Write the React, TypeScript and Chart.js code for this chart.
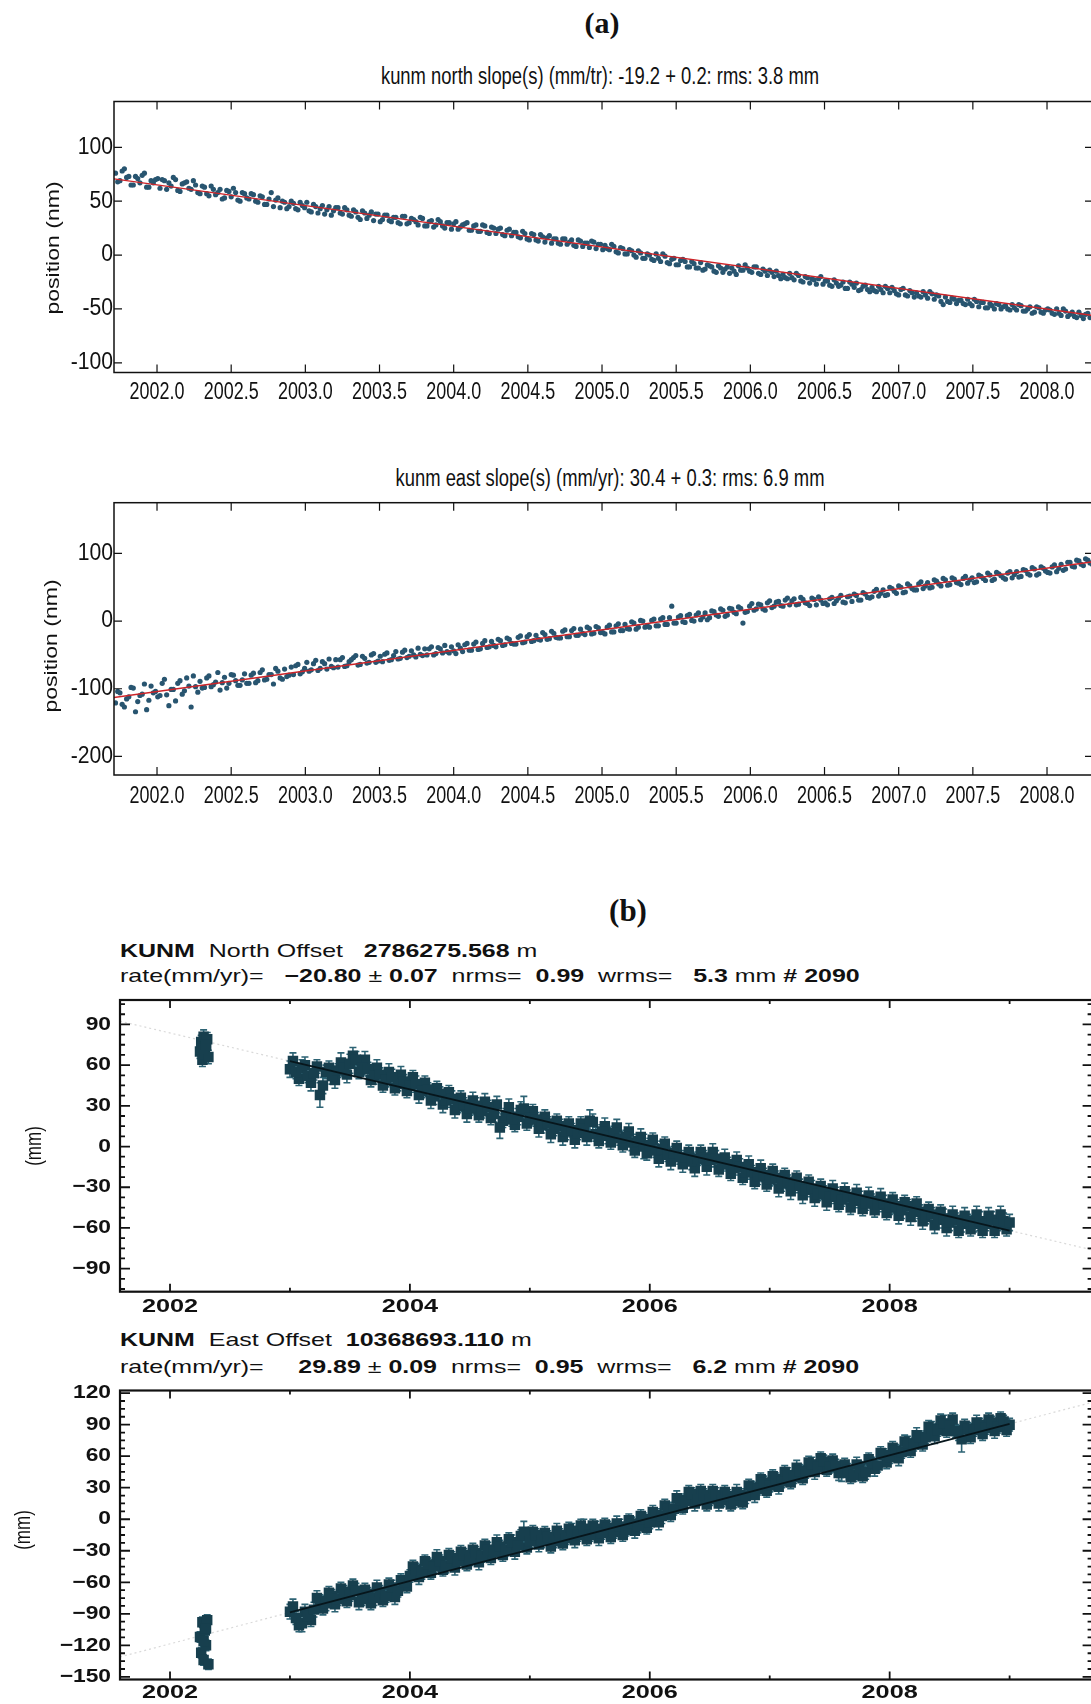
import { useEffect, useRef } from "react";
import { Chart, registerables } from "chart.js";

Chart.register(...registerables);

const CANVAS_W = 1100;
const SANS = "'Liberation Sans', Arial, Helvetica, sans-serif";
const SERIF = "'Liberation Serif', 'Times New Roman', serif";

/* ---------------- (a) daily solutions ---------------- */
// two interleaved sets of epochs, each spaced 0.03 yr
const A_START = 2001.72;
const A_START_2 = 2001.735;
const A_STEP = 0.03;

const northDaily = [
  76, 69, 80, 73, 65, 71, 74, 63, 69, 70,
  62, 69, 67, 72, 60, 66, 68, 61, 65, 57,
  63, 55, 61, 58, 52, 60, 54, 58, 50, 57,
  52, 56, 49, 54, 47, 58, 51, 44, 49, 45,
  48, 42, 46, 49, 40, 45, 43, 38, 45, 41,
  44, 38, 42, 36, 40, 33, 39, 37, 32, 38,
  33, 37, 31, 35, 29, 36, 30, 33, 28, 34,
  27, 32, 28, 31, 25, 30, 29, 24, 28, 30,
  23, 28, 22, 27, 20, 25, 24, 19, 23, 18,
  21, 16, 20, 14, 19, 13, 17, 16, 11, 15,
  10, 15, 12, 9, 14, 8, 11, 13, 6, 10,
  9, 5, 8, 2, 6, 1, 4, -2, 2, -3,
  0, -5, -3, 1, -7, -4, -9, -5, -6, -11,
  -8, -12, -14, -9, -11, -16, -12, -13, -17, -15,
  -10, -14, -12, -16, -11, -18, -15, -14, -20, -19,
  -18, -22, -21, -17, -24, -20, -26, -23, -22, -27,
  -24, -29, -26, -28, -31, -25, -30, -33, -29, -32,
  -30, -34, -32, -29, -35, -33, -37, -31, -38, -35,
  -35, -39, -37, -34, -41, -38, -46, -43, -40, -45,
  -42, -46, -45, -41, -48, -44, -49, -47, -45, -50,
  -47, -51, -49, -46, -52, -50, -54, -48, -53, -51,
  -51, -55, -54, -50, -57, -53, -58, -56, -55, -58,
];

const northDaily2 = [
  68, 78, 72, 65, 73, 67, 76, 63, 67, 71,
  70, 61, 64, 70, 59, 67, 62, 69, 58, 64,
  57, 64, 56, 61, 53, 59, 62, 51, 58, 53,
  57, 50, 55, 47, 52, 45, 53, 50, 43, 50,
  43, 49, 44, 41, 47, 39, 46, 42, 37, 44,
  39, 44, 37, 42, 35, 41, 34, 40, 38, 31,
  37, 32, 35, 30, 36, 29, 34, 31, 35, 27,
  31, 26, 33, 27, 30, 24, 31, 26, 29, 23,
  27, 22, 28, 21, 26, 20, 25, 18, 24, 21,
  17, 22, 15, 20, 14, 19, 12, 18, 15, 11,
  15, 10, 14, 8, 13, 11, 7, 12, 10, 5,
  6, 10, 3, 7, 1, 5, 0, 4, -3, 1,
  -4, 1, -6, -1, -8, -3, -9, -4, -11, -6,
  -12, -7, -13, -10, -15, -10, -16, -11, -12, -18,
  -14, -9, -15, -11, -17, -13, -19, -16, -15, -22,
  -21, -17, -23, -19, -25, -21, -22, -27, -20, -24,
  -28, -23, -29, -25, -31, -27, -26, -32, -28, -34,
  -33, -29, -35, -31, -30, -36, -32, -37, -33, -39,
  -38, -34, -40, -36, -37, -43, -39, -44, -41, -42,
  -45, -41, -47, -43, -44, -49, -45, -50, -46, -48,
  -50, -46, -51, -47, -52, -48, -53, -49, -54, -50,
  -54, -50, -56, -52, -55, -57, -53, -59, -54, -58,
];

const eastDaily = [
  -121, -106, -127, -112, -99, -119, -108, -131, -96, -104,
  -110, -86, -125, -101, -92, -108, -84, -127, -97, -89,
  -98, -81, -94, -76, -91, -99, -79, -88, -95, -78,
  -92, -77, -88, -72, -86, -79, -70, -84, -71, -80,
  -79, -64, -75, -61, -72, -58, -70, -63, -56, -69,
  -68, -54, -66, -57, -51, -64, -55, -61, -48, -59,
  -60, -47, -57, -45, -55, -43, -52, -50, -40, -51,
  -50, -38, -48, -41, -36, -47, -44, -35, -45, -33,
  -43, -31, -41, -29, -38, -36, -27, -36, -25, -33,
  -34, -22, -31, -20, -29, -27, -17, -27, -15, -24,
  -25, -13, -23, -11, -21, -18, -9, -19, -8, -17,
  -19, -6, -16, -4, -14, -11, -1, -12, 1, -9,
  -9, 3, -7, 5, -5, 22, -3, 8, -2, 10,
  0, 12, 6, 2, 15, 9, 18, 7, 19, 13,
  21, -3, 14, 26, 18, 24, 16, 30, 22, 29,
  22, 34, 30, 24, 35, 27, 23, 32, 36, 26,
  24, 35, 30, 38, 27, 37, 40, 31, 42, 35,
  36, 47, 41, 38, 50, 44, 52, 42, 55, 48,
  46, 58, 52, 49, 61, 55, 63, 53, 64, 57,
  54, 66, 61, 57, 68, 63, 71, 60, 72, 67,
  62, 73, 69, 65, 76, 70, 79, 68, 80, 74,
  71, 83, 78, 75, 87, 81, 90, 84, 92, 86,
];

const eastDaily2 = [
  -104, -123, -115, -98, -134, -110, -93, -117, -106, -112,
  -92, -109, -101, -118, -88, -103, -96, -81, -105, -99,
  -84, -97, -90, -102, -83, -92, -80, -95, -87, -92,
  -80, -91, -76, -87, -79, -93, -74, -86, -82, -68,
  -66, -78, -70, -74, -63, -73, -60, -71, -67, -57,
  -57, -67, -60, -54, -65, -52, -62, -50, -61, -52,
  -49, -58, -51, -56, -46, -54, -44, -53, -49, -41,
  -41, -50, -39, -47, -45, -38, -48, -40, -35, -43,
  -34, -42, -33, -39, -30, -38, -29, -35, -27, -34,
  -24, -32, -23, -30, -21, -28, -20, -26, -18, -25,
  -15, -23, -14, -21, -12, -20, -11, -18, -10, -17,
  -9, -16, -7, -14, -5, -12, -3, -9, 0, -7,
  1, -7, 3, -5, 5, -3, 6, -1, 8, 1,
  9, 2, 12, 5, 14, 7, 16, 9, 18, 11,
  19, 13, 22, 16, 25, 18, 27, 20, 28, 23,
  31, 24, 33, 25, 32, 26, 34, 24, 31, 27,
  33, 26, 34, 28, 36, 29, 38, 31, 40, 34,
  44, 37, 46, 39, 48, 41, 50, 43, 52, 46,
  55, 48, 57, 50, 59, 52, 61, 54, 62, 56,
  63, 56, 64, 58, 66, 60, 68, 62, 70, 64,
  71, 64, 73, 66, 75, 68, 77, 70, 78, 72,
  80, 73, 84, 77, 87, 80, 89, 82, 90, 84,
];

// slopes printed in the (a) titles (mm/yr) and a point the fit passes through
const A_NORTH_SLOPE = -19.2;
const A_NORTH_AT = { t: 2005.0, v: 7.5 };
const A_EAST_SLOPE = 30.4;
const A_EAST_AT = { t: 2005.0, v: -13 };

/* ---------------- (b) offsets with 1-sigma errors ---------------- */
// two interleaved sets of epochs, each spaced 0.05 yr
const B_START = 2003.0;
const B_START_2 = 2003.025;
const B_STEP = 0.05;

const northOffset = [
  57, 55, 58, 52, 54, 38, 55, 52, 56, 58,
  61, 64, 58, 57, 52, 53, 49, 51, 46, 48,
  45, 46, 41, 42, 37, 39, 34, 35, 30, 31,
  28, 30, 26, 29, 24, 14, 23, 20, 22, 28,
  21, 20, 16, 17, 13, 15, 11, 12, 10, 13,
  19, 9, 11, 8, 10, 6, 7, 3, 4, 0,
  1, -3, -2, -6, -5, -8, -8, -11, -9, -8,
  -10, -9, -13, -13, -16, -15, -19, -19, -22, -21,
  -24, -23, -27, -26, -29, -29, -32, -31, -35, -34,
  -37, -36, -39, -37, -40, -39, -42, -40, -43, -42,
  -45, -44, -47, -44, -48, -48, -52, -50, -54, -53,
  -56, -54, -57, -55, -57, -55, -57, -54, -57, -55, -56,
];
const northSigma = [
  6, 5, 6, 5, 5, 9, 5, 6, 5, 6,
  7, 6, 5, 5, 6, 5, 5, 6, 5, 5,
  5, 6, 5, 5, 6, 5, 5, 6, 5, 5,
  5, 6, 5, 5, 6, 8, 5, 5, 6, 9,
  5, 5, 6, 5, 5, 5, 6, 5, 5, 5,
  8, 5, 5, 6, 5, 5, 5, 6, 5, 9,
  5, 5, 6, 5, 5, 5, 5, 6, 5, 5,
  5, 6, 5, 5, 5, 6, 5, 5, 6, 5,
  5, 5, 6, 5, 5, 5, 5, 6, 5, 5,
  5, 6, 5, 5, 5, 6, 5, 5, 5, 6,
  5, 5, 6, 5, 7, 5, 5, 5, 6, 7,
  6, 5, 6, 5, 6, 7, 5, 6, 5, 6, 6,
];
const northOffset2 = [
  63, 50, 60, 47, 59, 45, 58, 49, 62, 53,
  67, 55, 64, 49, 58, 45, 55, 43, 53, 41,
  51, 38, 47, 34, 43, 31, 40, 27, 36, 24,
  34, 23, 33, 21, 31, 19, 29, 16, 27, 17,
  26, 13, 22, 9, 19, 7, 17, 5, 17, 7,
  18, 4, 15, 3, 14, 1, 11, -3, 7, -5,
  5, -9, 2, -11, -1, -13, -4, -16, -4, -15,
  -4, -17, -8, -20, -10, -23, -13, -26, -16, -28,
  -18, -31, -21, -33, -23, -36, -26, -38, -29, -41,
  -31, -43, -33, -45, -34, -46, -36, -47, -37, -49,
  -39, -51, -41, -52, -42, -55, -46, -58, -48, -60,
  -50, -62, -51, -61, -50, -62, -51, -62, -50, -61,
];
const northSigma2 = [
  6, 5, 6, 6, 5, 6, 5, 6, 7, 6,
  6, 5, 6, 5, 6, 5, 6, 5, 6, 5,
  5, 6, 5, 6, 5, 6, 5, 6, 5, 6,
  6, 5, 6, 5, 6, 5, 6, 5, 6, 5,
  5, 6, 5, 6, 5, 6, 5, 6, 5, 6,
  6, 5, 6, 5, 6, 5, 6, 5, 6, 5,
  5, 6, 5, 6, 5, 6, 5, 6, 5, 6,
  6, 5, 6, 5, 6, 5, 6, 5, 6, 5,
  5, 6, 5, 6, 5, 6, 5, 6, 5, 6,
  6, 5, 6, 5, 6, 5, 6, 5, 6, 5,
  5, 6, 5, 6, 5, 6, 5, 6, 5, 6,
  6, 5, 6, 5, 6, 5, 6, 5, 6, 5,
];

const eastOffset = [
  -88, -94, -99, -92, -86, -78, -80, -73, -76, -69,
  -72, -68, -76, -71, -75, -69, -73, -65, -68, -60,
  -54, -48, -50, -43, -45, -40, -44, -37, -40, -34,
  -38, -32, -35, -29, -31, -26, -29, -22, -25, -12,
  -21, -15, -20, -17, -21, -15, -18, -11, -15, -9,
  -15, -9, -13, -8, -12, -7, -10, -4, -7, 0,
  -3, 4, 3, 10, 10, 18, 17, 24, 19, 23,
  19, 23, 18, 22, 17, 23, 22, 30, 29, 35,
  32, 38, 36, 42, 40, 46, 45, 52, 50, 55,
  50, 51, 44, 47, 42, 49, 45, 53, 51, 61,
  59, 65, 64, 72, 71, 78, 78, 86, 85, 91,
  89, 84, 76, 86, 85, 90, 87, 92, 88, 93, 90,
];
const eastSigma = [
  7, 6, 8, 6, 7, 6, 7, 6, 6, 6,
  6, 7, 6, 6, 7, 6, 6, 7, 6, 6,
  6, 6, 7, 6, 6, 6, 7, 6, 6, 6,
  6, 6, 6, 7, 6, 6, 6, 7, 6, 10,
  6, 6, 7, 6, 6, 6, 6, 7, 6, 9,
  6, 7, 6, 6, 6, 7, 6, 6, 6, 6,
  6, 6, 7, 6, 6, 6, 7, 6, 6, 6,
  6, 7, 6, 6, 6, 6, 7, 6, 6, 6,
  6, 6, 6, 7, 6, 6, 6, 7, 6, 6,
  6, 6, 8, 6, 6, 6, 7, 6, 6, 6,
  6, 6, 6, 7, 6, 6, 6, 7, 6, 8,
  6, 6, 12, 6, 6, 6, 6, 6, 6, 6, 6,
];
const eastOffset2 = [
  -83, -101, -88, -96, -75, -85, -70, -81, -66, -78,
  -63, -79, -67, -80, -65, -77, -62, -74, -58, -64,
  -45, -55, -40, -51, -36, -48, -34, -46, -31, -43,
  -29, -41, -25, -37, -22, -34, -19, -31, -16, -27,
  -12, -24, -13, -26, -11, -23, -9, -20, -6, -19,
  -6, -18, -5, -17, -4, -15, -1, -11, 3, -8,
  7, -3, 13, 4, 20, 11, 26, 15, 27, 14,
  27, 15, 26, 14, 26, 16, 32, 23, 38, 27,
  41, 31, 45, 35, 49, 39, 54, 45, 58, 47,
  56, 44, 52, 40, 52, 41, 57, 48, 63, 54,
  68, 58, 74, 65, 80, 71, 88, 79, 94, 84,
  95, 82, 89, 78, 92, 81, 95, 84, 96, 85,
];
const eastSigma2 = [
  7, 6, 7, 6, 7, 6, 6, 7, 6, 6,
  6, 7, 6, 6, 7, 6, 6, 7, 6, 6,
  6, 7, 6, 6, 7, 6, 6, 7, 6, 6,
  6, 7, 6, 6, 7, 6, 6, 7, 6, 6,
  6, 7, 6, 6, 7, 6, 6, 7, 6, 6,
  6, 7, 6, 6, 7, 6, 6, 7, 6, 6,
  6, 7, 6, 6, 7, 6, 6, 7, 6, 6,
  6, 7, 6, 6, 7, 6, 6, 7, 6, 6,
  6, 7, 6, 6, 7, 6, 6, 7, 6, 6,
  6, 7, 6, 6, 7, 6, 6, 7, 6, 6,
  6, 7, 6, 6, 7, 6, 6, 7, 6, 6,
  6, 7, 6, 6, 7, 6, 6, 7, 6, 6,
];

// short 2002 occupation
const campaignEpochs = [2002.25, 2002.26, 2002.27, 2002.28, 2002.29, 2002.3, 2002.31, 2002.32, 2002.28, 2002.3];
const campaignNorth = [70, 77, 64, 81, 68, 74, 79, 66, 72, 75];
const campaignEast = [-112, -127, -98, -134, -106, -120, -96, -138, -116, -104];
const campaignSigma = [5, 5, 5, 5, 5, 5, 5, 5, 5, 5];

// rates printed in the (b) headers (mm/yr) and a point the fit passes through
const B_NORTH_RATE = -20.8;
const B_NORTH_AT = { t: 2006.0, v: 0.5 };
const B_EAST_RATE = 29.89;
const B_EAST_AT = { t: 2006.0, v: 1.0 };
const B_FIT_SPAN = [2003.0, 2009.0];

/* ---------------- axes ---------------- */
const A_X_RANGE = [2001.71, 2008.31];
const A_YEAR_TICKS = [2002.0, 2002.5, 2003.0, 2003.5, 2004.0, 2004.5, 2005.0, 2005.5, 2006.0, 2006.5, 2007.0, 2007.5, 2008.0];
const A_NORTH_RANGE = [-109, 142.5];
const A_NORTH_TICKS = [100, 50, 0, -50, -100];
const A_EAST_RANGE = [-227.5, 175];
const A_EAST_TICKS = [100, 0, -100, -200];

const B_X_RANGE = [2001.583, 2009.692];
const B_YEAR_TICKS = [2002, 2003, 2004, 2005, 2006, 2007, 2008, 2009];
const B_YEAR_LABELS = [2002, 2004, 2006, 2008];
const B_NORTH_RANGE = [-107, 108];
const B_NORTH_TICKS = [90, 60, 30, 0, -30, -60, -90];
const B_EAST_RANGE = [-152.5, 122.5];
const B_EAST_TICKS = [120, 90, 60, 30, 0, -30, -60, -90, -120, -150];
const B_MINOR_STEP = 7.5;

/* ---------------- helpers ---------------- */
type Pt = { x: number; y: number; e?: number };

const series = (start: number, step: number, vals: number[]): Pt[] =>
  vals.map((v, i) => ({ x: +(start + i * step).toFixed(3), y: v }));
const withSigma = (pts: Pt[], sig: number[]): Pt[] => pts.map((p, i) => ({ ...p, e: sig[i] }));
const fitLine = (slope: number, at: { t: number; v: number }, t0: number, t1: number): Pt[] =>
  [t0, t1].map((t) => ({ x: t, y: at.v + slope * (t - at.t) }));
const minorTicks = (range: number[], step: number, majors: number[]) => {
  const out: number[] = [];
  for (let v = Math.ceil(range[0] / step) * step; v <= range[1]; v += step) {
    if (!majors.some((m) => Math.abs(m - v) < 1e-6)) out.push(v);
  }
  return out;
};
const bMinus = (v: number) => (v < 0 ? "\u2212" + Math.abs(v) : String(v));

interface Labelled { v: number; text: string }
interface PanelSpec {
  top: number;
  height: number;
  area: { left: number; top: number; right: number; bottom: number };
  xRange: number[];
  yRange: number[];
  datasets: any[];
  xMajor: number[];
  xMinor: number[];
  xLabels: Labelled[];
  yMajor: number[];
  yMinor: number[];
  yLabels: Labelled[];
  xMajorLen: number;
  xMinorLen: number;
  yMajorLen: number;
  yMinorLen: number;
  frameWidth: number;
  tickFont: string;
  xLabelScale: number;
  yLabelScale: number;
  xLabelY: number;
  yLabelRight: number;
  yTitle: { text: string; cx: number; cy: number; font: string; along: number; across: number };
  errColor: string;
}

function drawScaledText(ctx: CanvasRenderingContext2D, text: string, x: number, y: number, font: string, sx: number, align: CanvasTextAlign) {
  ctx.save();
  ctx.translate(x, y);
  ctx.scale(sx, 1);
  ctx.font = font;
  ctx.textAlign = align;
  ctx.textBaseline = "middle";
  ctx.fillText(text, 0, 0);
  ctx.restore();
}

// frame, inward ticks, tick labels, axis title and error bars for one panel
function framePlugin(s: PanelSpec) {
  return {
    id: "panelFrame",
    beforeDatasetsDraw(chart: any) {
      const { ctx, chartArea: a } = chart;
      const xs = chart.scales.x;
      const ys = chart.scales.y;
      ctx.save();
      ctx.beginPath();
      ctx.rect(a.left, a.top, a.right - a.left, a.bottom - a.top);
      ctx.clip();
      ctx.strokeStyle = s.errColor;
      ctx.lineWidth = 1.6;
      chart.data.datasets.forEach((ds: any) => {
        if (!ds.errorBars) return;
        ctx.beginPath();
        for (const p of ds.data as Pt[]) {
          const e = p.e ?? 0;
          const px = xs.getPixelForValue(p.x);
          const y1 = ys.getPixelForValue(p.y + e);
          const y2 = ys.getPixelForValue(p.y - e);
          ctx.moveTo(px, y1);
          ctx.lineTo(px, y2);
          ctx.moveTo(px - 3.5, y1);
          ctx.lineTo(px + 3.5, y1);
          ctx.moveTo(px - 3.5, y2);
          ctx.lineTo(px + 3.5, y2);
        }
        ctx.stroke();
      });
      ctx.restore();
    },
    afterDatasetsDraw(chart: any) {
      const { ctx, chartArea: a } = chart;
      const xs = chart.scales.x;
      const ys = chart.scales.y;
      ctx.save();
      ctx.strokeStyle = "#111";
      ctx.fillStyle = "#111";
      ctx.lineWidth = s.frameWidth;
      ctx.strokeRect(a.left, a.top, a.right - a.left, a.bottom - a.top);

      ctx.lineWidth = Math.max(1.2, s.frameWidth - 0.4);
      ctx.beginPath();
      const xTick = (v: number, len: number) => {
        const px = xs.getPixelForValue(v);
        ctx.moveTo(px, a.bottom);
        ctx.lineTo(px, a.bottom - len);
        ctx.moveTo(px, a.top);
        ctx.lineTo(px, a.top + len);
      };
      const yTick = (v: number, len: number) => {
        const py = ys.getPixelForValue(v);
        ctx.moveTo(a.left, py);
        ctx.lineTo(a.left + len, py);
        ctx.moveTo(a.right, py);
        ctx.lineTo(a.right - len, py);
      };
      s.xMajor.forEach((v) => xTick(v, s.xMajorLen));
      s.xMinor.forEach((v) => xTick(v, s.xMinorLen));
      s.yMajor.forEach((v) => yTick(v, s.yMajorLen));
      s.yMinor.forEach((v) => yTick(v, s.yMinorLen));
      ctx.stroke();

      s.xLabels.forEach((l) =>
        drawScaledText(ctx, l.text, xs.getPixelForValue(l.v), s.xLabelY - s.top, s.tickFont, s.xLabelScale, "center")
      );
      s.yLabels.forEach((l) =>
        drawScaledText(ctx, l.text, s.yLabelRight, ys.getPixelForValue(l.v), s.tickFont, s.yLabelScale, "right")
      );

      const t = s.yTitle;
      ctx.save();
      ctx.translate(t.cx, t.cy - s.top);
      ctx.rotate(-Math.PI / 2);
      ctx.scale(t.along, t.across);
      ctx.font = t.font;
      ctx.textAlign = "center";
      ctx.textBaseline = "middle";
      ctx.fillText(t.text, 0, 0);
      ctx.restore();
      ctx.restore();
    },
  };
}

/* ---------------- datasets ---------------- */
const DOT = "#285570";
const RED = "#cc2429";
const BAND = "#173f4e";
const BAND_ERR = "#2d6374";

function dailyDatasets(vals: number[], vals2: number[], slope: number, at: { t: number; v: number }) {
  const dots = {
    type: "scatter",
    backgroundColor: DOT,
    borderWidth: 0,
    pointRadius: 2.6,
    order: 1,
  };
  return [
    {
      type: "line",
      data: fitLine(slope, at, A_X_RANGE[0], A_X_RANGE[1]),
      borderColor: RED,
      borderWidth: 1.4,
      pointRadius: 0,
      order: 0,
    },
    { ...dots, data: series(A_START, A_STEP, vals) },
    { ...dots, data: series(A_START_2, A_STEP, vals2) },
  ];
}

function offsetDatasets(
  vals: number[], sig: number[], vals2: number[], sig2: number[], early: number[],
  rate: number, at: { t: number; v: number }
) {
  const marks = {
    type: "scatter",
    errorBars: true,
    pointStyle: "rect",
    backgroundColor: BAND,
    borderWidth: 0,
    pointRadius: 7.4,
    order: 1,
  };
  return [
    {
      type: "line",
      data: fitLine(rate, at, B_FIT_SPAN[0], B_FIT_SPAN[1]),
      borderColor: "#07161c",
      borderWidth: 1.8,
      pointRadius: 0,
      order: 0,
    },
    { ...marks, data: withSigma(series(B_START, B_STEP, vals), sig) },
    { ...marks, data: withSigma(series(B_START_2, B_STEP, vals2), sig2) },
    { ...marks, data: early.map((v, i) => ({ x: campaignEpochs[i], y: v, e: campaignSigma[i] })) },
    {
      type: "line",
      data: fitLine(rate, at, B_X_RANGE[0], B_X_RANGE[1]),
      borderColor: "rgba(160,160,160,0.4)",
      borderWidth: 1.2,
      borderDash: [2, 3],
      pointRadius: 0,
      order: 3,
    },
  ];
}

/* ---------------- panels ---------------- */
const A_TICK_FONT = `23px ${SANS}`;
const B_TICK_FONT = `bold 19px ${SANS}`;

const aXLabels = A_YEAR_TICKS.map((v) => ({ v, text: v.toFixed(1) }));
const bXLabels = B_YEAR_LABELS.map((v) => ({ v, text: String(v) }));
const bXMinor = B_YEAR_TICKS.filter((v) => !B_YEAR_LABELS.includes(v));

const panelA1: PanelSpec = {
  top: 88,
  height: 330,
  area: { left: 114, top: 101.5, right: 1093, bottom: 372.5 },
  xRange: A_X_RANGE,
  yRange: A_NORTH_RANGE,
  datasets: dailyDatasets(northDaily, northDaily2, A_NORTH_SLOPE, A_NORTH_AT),
  xMajor: A_YEAR_TICKS,
  xMinor: [],
  xLabels: aXLabels,
  yMajor: A_NORTH_TICKS,
  yMinor: [],
  yLabels: A_NORTH_TICKS.map((v) => ({ v, text: String(v) })),
  xMajorLen: 8,
  xMinorLen: 0,
  yMajorLen: 8,
  yMinorLen: 0,
  frameWidth: 1.5,
  tickFont: A_TICK_FONT,
  xLabelScale: 0.78,
  yLabelScale: 0.92,
  xLabelY: 393,
  yLabelRight: 113,
  yTitle: { text: "position (nm)", cx: 54, cy: 248, font: `18px ${SANS}`, along: 1.28, across: 1 },
  errColor: BAND_ERR,
};

const panelA2: PanelSpec = {
  ...panelA1,
  top: 488,
  area: { left: 114, top: 502.7, right: 1093, bottom: 775 },
  yRange: A_EAST_RANGE,
  datasets: dailyDatasets(eastDaily, eastDaily2, A_EAST_SLOPE, A_EAST_AT),
  yMajor: A_EAST_TICKS,
  yLabels: A_EAST_TICKS.map((v) => ({ v, text: String(v) })),
  xLabelY: 797,
  yTitle: { ...panelA1.yTitle, cx: 52, cy: 646 },
};

const panelB1: PanelSpec = {
  top: 990,
  height: 335,
  area: { left: 120, top: 1000, right: 1093, bottom: 1291.7 },
  xRange: B_X_RANGE,
  yRange: B_NORTH_RANGE,
  datasets: offsetDatasets(northOffset, northSigma, northOffset2, northSigma2, campaignNorth, B_NORTH_RATE, B_NORTH_AT),
  xMajor: B_YEAR_LABELS,
  xMinor: bXMinor,
  xLabels: bXLabels,
  yMajor: B_NORTH_TICKS,
  yMinor: minorTicks(B_NORTH_RANGE, B_MINOR_STEP, B_NORTH_TICKS),
  yLabels: B_NORTH_TICKS.map((v) => ({ v, text: bMinus(v) })),
  xMajorLen: 8,
  xMinorLen: 4,
  yMajorLen: 10,
  yMinorLen: 5,
  frameWidth: 2.2,
  tickFont: B_TICK_FONT,
  xLabelScale: 1.33,
  yLabelScale: 1.2,
  xLabelY: 1307,
  yLabelRight: 111,
  yTitle: { text: "(mm)", cx: 35, cy: 1146, font: `17px ${SANS}`, along: 1, across: 1.3 },
  errColor: BAND_ERR,
};

const panelB2: PanelSpec = {
  ...panelB1,
  top: 1380,
  height: 324,
  area: { left: 120, top: 1390.5, right: 1093, bottom: 1679.5 },
  yRange: B_EAST_RANGE,
  datasets: offsetDatasets(eastOffset, eastSigma, eastOffset2, eastSigma2, campaignEast, B_EAST_RATE, B_EAST_AT),
  yMajor: B_EAST_TICKS,
  yMinor: minorTicks(B_EAST_RANGE, B_MINOR_STEP, B_EAST_TICKS),
  yLabels: B_EAST_TICKS.map((v) => ({ v, text: bMinus(v) })),
  xLabelY: 1692.5,
  yTitle: { ...panelB1.yTitle, cx: 24, cy: 1530 },
};

const PANELS = [panelA1, panelA2, panelB1, panelB2];

function Panel({ spec }: { spec: PanelSpec }) {
  const ref = useRef<HTMLCanvasElement>(null);
  useEffect(() => {
    const canvas = ref.current;
    if (!canvas) return;
    const chart = new Chart(canvas, {
      type: "scatter",
      data: { datasets: spec.datasets },
      options: {
        animation: false,
        responsive: false,
        devicePixelRatio: 1,
        events: [],
        layout: {
          padding: {
            left: spec.area.left,
            top: spec.area.top - spec.top,
            right: CANVAS_W - spec.area.right,
            bottom: spec.top + spec.height - spec.area.bottom,
          },
        },
        plugins: { legend: { display: false }, tooltip: { enabled: false }, title: { display: false } },
        scales: {
          x: { type: "linear", display: false, min: spec.xRange[0], max: spec.xRange[1] },
          y: { type: "linear", display: false, min: spec.yRange[0], max: spec.yRange[1] },
        },
      } as any,
      plugins: [framePlugin(spec) as any],
    } as any);
    return () => chart.destroy();
  }, [spec]);
  return (
    <canvas
      ref={ref}
      width={CANVAS_W}
      height={spec.height}
      style={{ position: "absolute", left: 0, top: spec.top, width: CANVAS_W, height: spec.height }}
    />
  );
}

const centered = (cx: number, cy: number, sx: number): React.CSSProperties => ({
  position: "absolute",
  left: cx,
  top: cy,
  whiteSpace: "pre",
  transform: `translate(-50%, -50%) scaleX(${sx})`,
  color: "#111",
});

const headerLine = (cy: number): React.CSSProperties => ({
  position: "absolute",
  left: 120,
  top: cy - 11,
  height: 22,
  lineHeight: "22px",
  whiteSpace: "pre",
  fontFamily: SANS,
  fontSize: 18.5,
  color: "#111",
  transform: "scaleX(1.35)",
  transformOrigin: "left center",
});

export default function App() {
  return (
    <div
      style={{
        position: "absolute",
        left: 0,
        top: 0,
        width: 1091,
        height: 1704,
        overflow: "hidden",
        background: "#fff",
      }}
    >
      <div style={{ ...centered(602, 23, 1), fontFamily: SERIF, fontWeight: 700, fontSize: 30 }}>(a)</div>
      <div style={{ ...centered(600, 76, 0.8), fontFamily: SANS, fontSize: 23 }}>
        kunm north slope(s) (mm/tr): -19.2 + 0.2: rms: 3.8 mm
      </div>
      <div style={{ ...centered(610, 478, 0.8), fontFamily: SANS, fontSize: 23 }}>
        kunm east slope(s) (mm/yr): 30.4 + 0.3: rms: 6.9 mm
      </div>
      <div style={{ ...centered(628, 911, 1), fontFamily: SERIF, fontWeight: 700, fontSize: 31 }}>(b)</div>

      <div style={headerLine(951)}>
        <b>KUNM</b>{"  North Offset   "}<b>2786275.568</b>{" m"}
      </div>
      <div style={headerLine(976)}>
        {"rate(mm/yr)=   "}<b>{"\u221220.80"}</b>{" \u00b1 "}<b>0.07</b>{"  nrms=  "}<b>0.99</b>
        {"  wrms=   "}<b>5.3</b>{" mm "}<b># 2090</b>
      </div>
      <div style={headerLine(1340)}>
        <b>KUNM</b>{"  East Offset  "}<b>10368693.110</b>{" m"}
      </div>
      <div style={headerLine(1366.5)}>
        {"rate(mm/yr)=     "}<b>29.89</b>{" \u00b1 "}<b>0.09</b>{"  nrms=  "}<b>0.95</b>
        {"  wrms=   "}<b>6.2</b>{" mm "}<b># 2090</b>
      </div>

      {PANELS.map((p, i) => (
        <Panel key={i} spec={p} />
      ))}
    </div>
  );
}
